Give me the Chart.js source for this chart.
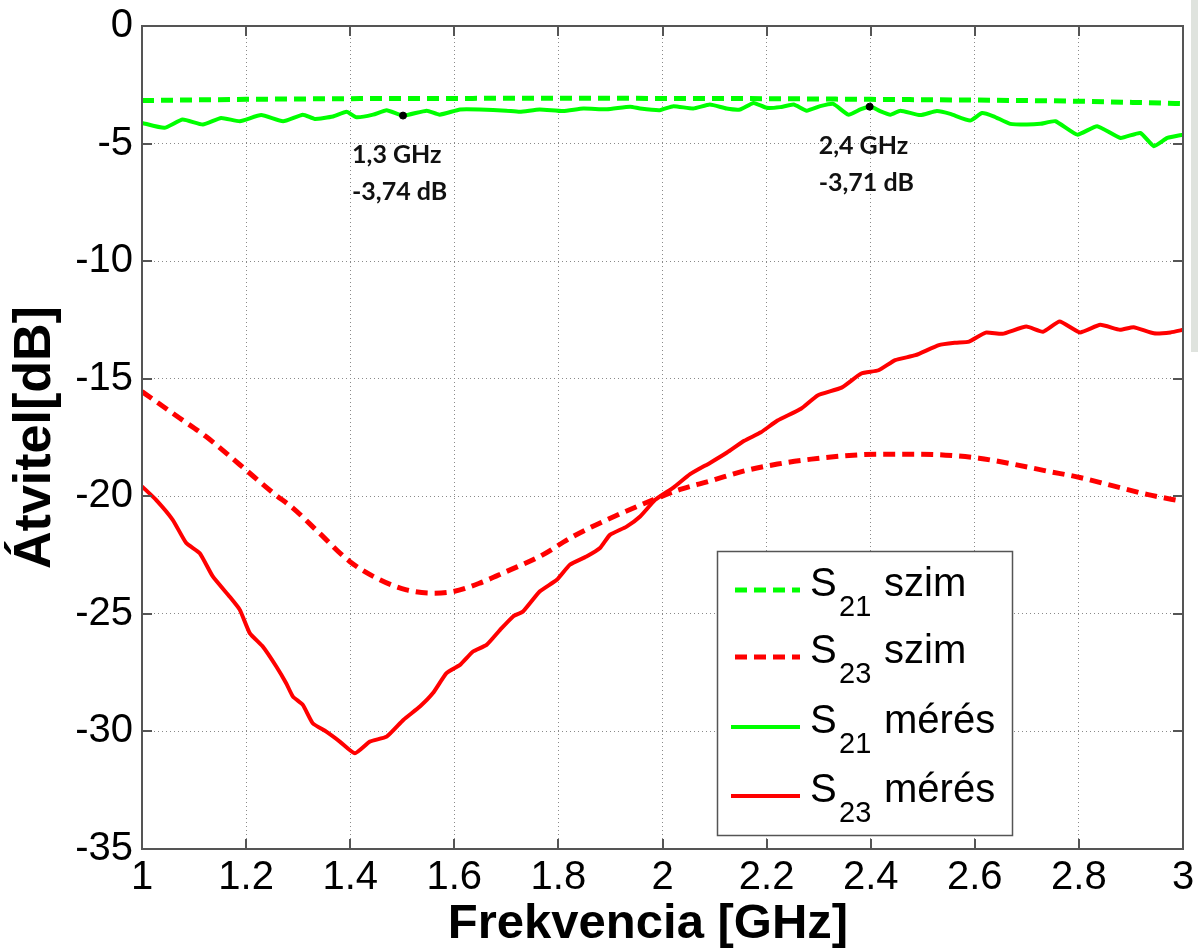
<!DOCTYPE html>
<html><head><meta charset="utf-8">
<script src="https://cdn.jsdelivr.net/npm/chart.js@4.4.1/dist/chart.umd.min.js"></script>
<style>
html,body{margin:0;padding:0;background:#fff;overflow:hidden}
#wrap{position:relative;width:1198px;height:949px}
#strip{position:absolute;left:1191px;top:0;width:7px;height:352px;background:#dfe3de}
</style></head><body>
<div id="wrap"><canvas id="c"></canvas><div id="strip"></div></div>
<script>
// ---- tick definitions ----
const xTicks = [1, 1.2, 1.4, 1.6, 1.8, 2, 2.2, 2.4, 2.6, 2.8, 3];
const xTickLabels = ['1','1.2','1.4','1.6','1.8','2','2.2','2.4','2.6','2.8','3'];
const yTicks = [0, -5, -10, -15, -20, -25, -30, -35];
const yTickLabels = ['0','-5','-10','-15','-20','-25','-30','-35'];
const xTitle = 'Frekvencia [GHz]';
const yTitle = 'Átvitel[dB]';

// ---- series ----
const s21SimF = [1.0,1.2,1.4,1.6,1.8,2.0,2.2,2.4,2.6,2.8,3.0];
const s21SimV = [-3.17,-3.12,-3.09,-3.08,-3.07,-3.08,-3.09,-3.12,-3.15,-3.20,-3.30];

const s23SimF = [1.0,1.072,1.123,1.188,1.252,1.29,1.341,1.399,1.457,1.508,1.559,1.598,1.649,1.70,1.764,1.828,1.893,1.982,2.034,2.092,2.157,2.221,2.286,2.350,2.415,2.479,2.544,2.608,2.673,2.737,2.802,2.866,2.931,3.0];
const s23SimV = [-15.55,-16.67,-17.46,-18.66,-19.86,-20.50,-21.57,-22.77,-23.55,-23.98,-24.12,-24.05,-23.69,-23.20,-22.56,-21.71,-21.0,-20.15,-19.71,-19.35,-18.92,-18.63,-18.42,-18.28,-18.21,-18.21,-18.25,-18.38,-18.63,-18.92,-19.20,-19.56,-19.92,-20.22];

const s21MeasF = [1.0,1.043,1.078,1.117,1.152,1.188,1.229,1.271,1.309,1.332,1.367,1.393,1.412,1.444,1.470,1.502,1.547,1.572,1.611,1.649,1.700,1.726,1.764,1.809,1.848,1.893,1.938,1.957,1.995,2.021,2.059,2.091,2.123,2.149,2.175,2.200,2.226,2.252,2.277,2.303,2.328,2.357,2.380,2.399,2.418,2.438,2.457,2.495,2.527,2.553,2.591,2.614,2.636,2.668,2.700,2.726,2.755,2.797,2.835,2.880,2.918,2.944,2.970,3.0];
const s21MeasV = [-4.12,-4.33,-3.98,-4.19,-3.91,-4.05,-3.79,-4.05,-3.77,-3.95,-3.85,-3.65,-3.88,-3.77,-3.58,-3.81,-3.60,-3.77,-3.55,-3.55,-3.60,-3.65,-3.55,-3.62,-3.51,-3.54,-3.43,-3.51,-3.58,-3.41,-3.51,-3.34,-3.51,-3.55,-3.27,-3.48,-3.45,-3.34,-3.60,-3.41,-3.31,-3.77,-3.55,-3.41,-3.62,-3.77,-3.60,-3.79,-3.62,-3.74,-4.02,-3.70,-3.84,-4.16,-4.19,-4.16,-4.05,-4.62,-4.26,-4.76,-4.55,-5.11,-4.76,-4.62];

const s23MeasF = [1.0,1.027,1.059,1.085,1.111,1.136,1.168,1.188,1.207,1.232,1.258,1.277,1.290,1.309,1.328,1.354,1.380,1.409,1.438,1.470,1.502,1.534,1.559,1.585,1.611,1.636,1.662,1.688,1.713,1.732,1.764,1.797,1.822,1.854,1.880,1.899,1.931,1.957,1.986,2.021,2.053,2.092,2.124,2.157,2.189,2.221,2.266,2.298,2.344,2.382,2.415,2.447,2.486,2.531,2.563,2.589,2.621,2.653,2.699,2.731,2.763,2.802,2.841,2.879,2.905,2.944,2.976,3.0];
const s23MeasV = [-19.58,-20.15,-21.0,-21.99,-22.42,-23.41,-24.26,-24.83,-25.82,-26.39,-27.24,-27.95,-28.52,-28.87,-29.65,-30.01,-30.43,-30.93,-30.43,-30.22,-29.51,-28.94,-28.37,-27.52,-27.17,-26.60,-26.32,-25.68,-25.11,-24.90,-24.05,-23.55,-22.91,-22.56,-22.20,-21.64,-21.29,-20.86,-20.15,-19.63,-19.06,-18.57,-18.14,-17.64,-17.28,-16.78,-16.28,-15.71,-15.38,-14.78,-14.64,-14.21,-14.0,-13.57,-13.47,-13.42,-13.04,-13.09,-12.78,-13.0,-12.57,-13.03,-12.71,-12.92,-12.81,-13.07,-13.03,-12.92];

// ---- data markers ----
const markF = [1.5015, 2.398];
const markV = [-3.81, -3.43];
const markLine1 = ['1,3 GHz', '2,4 GHz'];
const markLine2 = ['-3,74 dB', '-3,71 dB'];

// ---- legend text ----
const legMain = ['S','S','S','S'];
const legSub = ['21','23','21','23'];
const legSuffix = ['szim','szim','mérés','mérés'];

const pts = (f, v) => f.map((x, i) => ({x, y: v[i]}));
const GREEN = '#00ff00', RED = '#ff0000';
const DASH = [12, 7];
const FONT = "'Liberation Sans', Arial, sans-serif";

const framePlugin = {
  id: 'frame',
  afterDatasetsDraw(chart) {
    const {ctx, chartArea: a, scales: {x, y}} = chart;
    ctx.save();
    ctx.strokeStyle = '#555';
    ctx.lineWidth = 2;
    ctx.beginPath();
    x.ticks.forEach(t => {
      const px = Math.round(x.getPixelForValue(t.value));
      ctx.moveTo(px, a.bottom); ctx.lineTo(px, a.bottom - 10);
      ctx.moveTo(px, a.top); ctx.lineTo(px, a.top + 10);
    });
    y.ticks.forEach(t => {
      const py = Math.round(y.getPixelForValue(t.value));
      ctx.moveTo(a.left, py); ctx.lineTo(a.left + 10, py);
      ctx.moveTo(a.right, py); ctx.lineTo(a.right - 10, py);
    });
    ctx.stroke();
    ctx.strokeRect(a.left, a.top, a.right - a.left, a.bottom - a.top);

    // annotation labels
    ctx.fillStyle = '#111';
    ctx.font = "bold 25px Lato, 'Open Sans', sans-serif";
    ctx.textAlign = 'left';
    ctx.textBaseline = 'alphabetic';
    markF.forEach((f, i) => {
      const px = x.getPixelForValue(f), py = y.getPixelForValue(markV[i]);
      ctx.fillText(markLine1[i], px - 51, py + 47);
      ctx.fillText(markLine2[i], px - 51, py + 84);
    });
    ctx.restore();
  },
  afterDraw(chart) {
    const {ctx} = chart;
    ctx.save();
    // x-axis title (slightly left of centre, as in the original)
    ctx.fillStyle = '#000';
    ctx.font = 'bold 49px ' + FONT;
    ctx.textAlign = 'center';
    ctx.textBaseline = 'middle';
    ctx.fillText(xTitle, 648, 924);

    const bx = 717.5, by = 551.5, bw = 295, bh = 284;
    ctx.fillStyle = '#fff';
    ctx.fillRect(bx, by, bw, bh);
    ctx.strokeStyle = '#555';
    ctx.lineWidth = 1.5;
    ctx.strokeRect(bx, by, bw, bh);
    const baselines = [596, 663, 733, 802];
    [0, 1, 2, 3].forEach((di, i) => {
      const ds = chart.data.datasets[di];
      const bl = baselines[i];
      const ly = bl - 6;
      const dashed = ds.borderDash && ds.borderDash.length;
      ctx.save();
      ctx.strokeStyle = ds.borderColor;
      ctx.lineWidth = dashed ? 5 : 4;
      ctx.setLineDash(ds.borderDash || []);
      ctx.beginPath();
      ctx.moveTo(dashed ? 735 : 731, ly);
      ctx.lineTo(800, ly);
      ctx.stroke();
      ctx.restore();
      ctx.fillStyle = '#000';
      ctx.textBaseline = 'alphabetic';
      ctx.textAlign = 'left';
      ctx.font = '40px ' + FONT;
      ctx.fillText(legMain[i], 810, bl);
      ctx.font = '29px ' + FONT;
      ctx.fillText(legSub[i], 839, bl + 20);
      ctx.font = '40px ' + FONT;
      ctx.fillText(legSuffix[i], 884, bl);
    });
    ctx.restore();
  }
};

new Chart(document.getElementById('c'), {
  type: 'line',
  data: {
    datasets: [
      {label: 'S21 szim', data: pts(s21SimF, s21SimV), borderColor: GREEN, borderWidth: 5, borderDash: DASH, pointRadius: 0, cubicInterpolationMode: 'monotone'},
      {label: 'S23 szim', data: pts(s23SimF, s23SimV), borderColor: RED, borderWidth: 5, borderDash: DASH, pointRadius: 0, cubicInterpolationMode: 'monotone'},
      {label: 'S21 mérés', data: pts(s21MeasF, s21MeasV), borderColor: GREEN, borderWidth: 4, pointRadius: 0, tension: 0.15},
      {label: 'S23 mérés', data: pts(s23MeasF, s23MeasV), borderColor: RED, borderWidth: 4, pointRadius: 0, tension: 0.15},
      {label: 'markers', order: -1, data: pts(markF, markV), showLine: false, pointRadius: 3.5, pointBackgroundColor: '#000', pointBorderColor: '#000', pointBorderWidth: 1, borderColor: '#000'}
    ]
  },
  options: {
    responsive: true,
    maintainAspectRatio: false,
    devicePixelRatio: 1,
    animation: false,
    layout: {padding: {top: 26, right: 15, left: 0, bottom: 0}},
    plugins: {legend: {display: false}, tooltip: {enabled: false}},
    scales: {
      x: {
        type: 'linear', min: 1, max: 3,
        afterBuildTicks: s => { s.ticks = xTicks.map(v => ({value: v})); },
        afterFit: s => { s.height = 100; s.paddingLeft = 0; s.paddingRight = 0; },
        ticks: {
          callback: (v) => { const i = xTicks.findIndex(t => Math.abs(t - v) < 1e-6); return i >= 0 ? xTickLabels[i] : ''; },
          font: {family: FONT, size: 40}, color: '#000', padding: 5, maxRotation: 0, autoSkip: false
        },
        grid: {color: '#8a8a8a', lineWidth: 1, drawTicks: false},
        border: {display: false, dash: [1, 3]},
        title: {display: false, text: xTitle}
      },
      y: {
        type: 'linear', min: -35, max: 0,
        afterBuildTicks: s => { s.ticks = yTicks.map(v => ({value: v})); },
        afterFit: s => { s.width = 142; s.paddingTop = 0; s.paddingBottom = 0; },
        ticks: {
          callback: (v) => { const i = yTicks.indexOf(v); return i >= 0 ? yTickLabels[i] : ''; },
          font: {family: FONT, size: 40}, color: '#000', padding: 9
        },
        grid: {color: '#8a8a8a', lineWidth: 1, drawTicks: false},
        border: {display: false, dash: [1, 3]},
        title: {display: true, text: yTitle, color: '#000', font: {family: FONT, size: 52, weight: 'bold', lineHeight: 1}, padding: {top: 10, bottom: 0}}
      }
    }
  },
  plugins: [framePlugin]
});
</script>
</body></html>
